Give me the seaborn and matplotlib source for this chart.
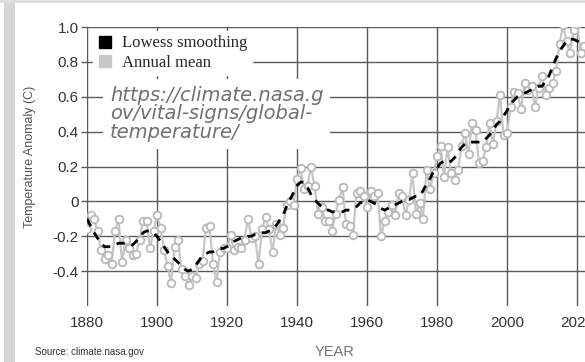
import numpy as np
import pandas as pd
import seaborn as sns
import matplotlib.pyplot as plt
from matplotlib.lines import Line2D
from matplotlib.patches import Rectangle

# annual global temperature anomaly (C), 1880-2022
years = list(range(1880, 2023))
annual_mean = [
    -0.16, -0.08, -0.10, -0.17, -0.28, -0.33, -0.31, -0.36, -0.17, -0.10,
    -0.35, -0.22, -0.27, -0.31, -0.30, -0.22, -0.11, -0.11, -0.27, -0.17,
    -0.08, -0.15, -0.28, -0.37, -0.47, -0.26, -0.22, -0.39, -0.43, -0.48,
    -0.43, -0.44, -0.36, -0.34, -0.15, -0.14, -0.36, -0.46, -0.29, -0.27,
    -0.27, -0.19, -0.28, -0.26, -0.27, -0.22, -0.10, -0.21, -0.20, -0.36,
    -0.16, -0.09, -0.16, -0.29, -0.13, -0.19, -0.15, -0.02, -0.00, -0.02,
    0.13, 0.19, 0.07, 0.09, 0.20, 0.09, -0.07, -0.03, -0.11, -0.11,
    -0.17, -0.07, 0.01, 0.08, -0.13, -0.14, -0.19, 0.05, 0.06, 0.03,
    -0.03, 0.06, 0.03, 0.05, -0.20, -0.11, -0.06, -0.02, -0.08, 0.05,
    0.03, -0.08, 0.01, 0.16, -0.07, -0.01, -0.10, 0.18, 0.07, 0.16,
    0.26, 0.32, 0.14, 0.31, 0.16, 0.12, 0.18, 0.32, 0.39, 0.27,
    0.45, 0.41, 0.22, 0.23, 0.31, 0.45, 0.33, 0.46, 0.61, 0.38,
    0.39, 0.54, 0.63, 0.62, 0.53, 0.68, 0.64, 0.66, 0.54, 0.65,
    0.72, 0.61, 0.65, 0.68, 0.75, 0.90, 1.01, 0.92, 0.85, 0.98,
    1.02, 0.85, 0.89,
]
lowess = [
    -0.10, -0.14, -0.18, -0.21, -0.24, -0.26, -0.26, -0.26, -0.25, -0.24,
    -0.24, -0.24, -0.25, -0.25, -0.23, -0.21, -0.18, -0.17, -0.17, -0.18,
    -0.20, -0.23, -0.26, -0.29, -0.31, -0.33, -0.35, -0.37, -0.39, -0.40,
    -0.39, -0.37, -0.34, -0.31, -0.30, -0.29, -0.29, -0.28, -0.27, -0.27,
    -0.26, -0.25, -0.23, -0.22, -0.21, -0.21, -0.20, -0.20, -0.19, -0.19,
    -0.18, -0.18, -0.17, -0.16, -0.14, -0.11, -0.08, -0.03, 0.01, 0.05,
    0.09, 0.11, 0.11, 0.08, 0.04, 0.01, -0.01, -0.03, -0.05, -0.05,
    -0.06, -0.06, -0.06, -0.06, -0.05, -0.05, -0.04, -0.03, -0.01, 0.00,
    0.01, 0.00, -0.01, -0.02, -0.04, -0.05, -0.04, -0.03, -0.02, -0.01,
    0.00, 0.01, 0.01, 0.02, 0.03, 0.03, 0.06, 0.10, 0.13, 0.17,
    0.19, 0.22, 0.23, 0.22, 0.23, 0.25, 0.28, 0.31, 0.33, 0.34,
    0.34, 0.34, 0.34, 0.34, 0.36, 0.38, 0.41, 0.44, 0.46, 0.49,
    0.52, 0.56, 0.58, 0.60, 0.61, 0.62, 0.63, 0.64, 0.65, 0.66,
    0.66, 0.69, 0.72, 0.77, 0.82, 0.86, 0.89, 0.92, 0.93, 0.93,
    0.92, 0.91, 0.90,
]
x_ticks = [1880, 1900, 1920, 1940, 1960, 1980, 2000, 2020]
y_ticks = [-0.4, -0.2, 0, 0.2, 0.4, 0.6, 0.8, 1.0]
y_tick_labels = ["-0.4", "-0.2", "0", "0.2", "0.4", "0.6", "0.8", "1.0"]
url_text = "https://climate.nasa.g\nov/vital-signs/global-\ntemperature/"

df = pd.DataFrame({"year": years, "annual": annual_mean, "lowess": lowess})

sns.set_style("white")
plt.rcParams["font.family"] = ["Liberation Sans", "DejaVu Sans"]

fig = plt.figure(figsize=(5.85, 3.62), dpi=100)
ax = fig.add_axes([87 / 585, 56 / 362, 498 / 585, 279 / 362])

# annual mean: grey line with open circles
sns.lineplot(data=df, x="year", y="annual", ax=ax, color="#c6c6c6", linewidth=1.6,
             marker="o", markersize=5.5, markerfacecolor="white",
             markeredgecolor="#b9b9b9", markeredgewidth=1.3, zorder=3)
# lowess smoothing: black dashes
sns.lineplot(data=df, x="year", y="lowess", ax=ax, color="black", linewidth=2.0,
             linestyle=(0, (3, 2.5)), zorder=4)

ax.set_xlim(1880, 1880 + 498 / 3.5)
ax.set_ylim(-0.6, 1.0)
ax.set_xticks(x_ticks)
ax.set_yticks(y_ticks)
ax.set_yticklabels(y_tick_labels)
ax.grid(True, color="#5a5a5a", linewidth=1.0)
ax.set_axisbelow(True)
for s in ax.spines.values():
    s.set_visible(False)
ax.tick_params(axis="y", length=4, width=1, color="#5a5a5a", pad=2,
               labelsize=11, labelcolor="#333333", left=True)
ax.tick_params(axis="x", length=0, pad=7, labelsize=11, labelcolor="#333333")
ax.set_xlabel("")
ax.set_ylabel("")

# legend
handles = [
    Line2D([], [], linestyle="none", marker="s", markersize=8.5,
           markerfacecolor="black", markeredgecolor="black"),
    Line2D([], [], linestyle="none", marker="s", markersize=8.5,
           markerfacecolor="#c8c8c8", markeredgecolor="#c8c8c8"),
]
leg = ax.legend(handles, ["Lowess smoothing", "Annual mean"], loc="upper left",
                bbox_to_anchor=(0.012, 0.985), frameon=True, framealpha=1,
                facecolor="white", edgecolor="white", fancybox=False,
                prop={"family": "Liberation Serif", "size": 12},
                handlelength=1.0, handletextpad=0.5, labelspacing=0.2,
                borderpad=0.25, borderaxespad=0)
leg.set_zorder(6)

# url overlay
ax.text(0.046, 0.79, url_text, transform=ax.transAxes, ha="left", va="top",
        fontsize=14, family="DejaVu Sans", style="oblique", color="#707070",
        linespacing=0.98, zorder=7,
        bbox=dict(facecolor="white", edgecolor="none", pad=5))

fig.text(30 / 585, 1 - 157 / 362, "Temperature Anomaly (C)", rotation=90,
         ha="center", va="center", fontsize=9, color="#555555")
fig.text(35 / 585, 1 - 352 / 362, "Source: climate.nasa.gov", ha="left",
         va="center", fontsize=7, color="#333333")
fig.text(335 / 585, 1 - 352 / 362, "YEAR", ha="center", va="center",
         fontsize=10.5, color="#777777")

# screenshot frame bars
fig.add_artist(Rectangle((4 / 585, 0), 11 / 585, 1, transform=fig.transFigure,
                         facecolor="#d6d6d6", edgecolor="none"))
fig.add_artist(Rectangle((0, 1 - 3 / 362), 1, 3 / 362, transform=fig.transFigure,
                         facecolor="#dedede", edgecolor="none"))

fig.savefig("out.png", dpi=100)
